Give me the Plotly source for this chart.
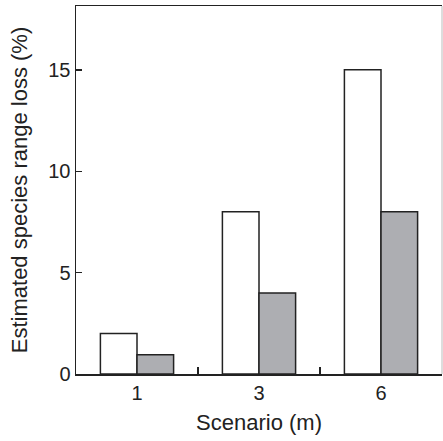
import plotly.graph_objects as go

categories = ["1", "3", "6"]
white_values = [2, 8, 15]
gray_values = [0.95, 4, 8]
y_ticks = [0, 5, 10, 15]

ink = "#222222"
font_family = "Liberation Sans, Arial, sans-serif"

fig = go.Figure()
fig.add_trace(go.Bar(
    x=categories, y=white_values, name="A",
    marker=dict(color="white", line=dict(color=ink, width=1.5)),
))
fig.add_trace(go.Bar(
    x=categories, y=gray_values, name="B",
    marker=dict(color="#adaeb2", line=dict(color=ink, width=1.5)),
))

fig.update_layout(
    width=443, height=441,
    margin=dict(l=76, r=1, t=6, b=67, autoexpand=False),
    paper_bgcolor="white", plot_bgcolor="white",
    barmode="group", bargap=0.4, bargroupgap=0,
    showlegend=False,
    font=dict(family=font_family, size=20, color=ink),
)

fig.update_xaxes(
    type="category", categoryorder="array", categoryarray=categories,
    range=[-0.5, 2.5],
    showline=True, linecolor=ink, linewidth=1.5, mirror=True,
    ticks="inside", tickson="boundaries", ticklen=7, tickwidth=1.5, tickcolor=ink,
    tickfont=dict(size=20), showgrid=False, zeroline=False,
    title=dict(text="Scenario (m)", font=dict(size=22), standoff=12),
)
fig.update_yaxes(
    range=[0, 18.15],
    tickvals=y_ticks, ticktext=[str(v) for v in y_ticks],
    showline=True, linecolor=ink, linewidth=1.5, mirror=False,
    ticks="inside", ticklen=6, tickwidth=1.5, tickcolor=ink,
    tickfont=dict(size=20), showgrid=False, zeroline=False,
    title=dict(text="Estimated species range loss (%)", font=dict(size=22), standoff=14),
)

fig.add_shape(type="line", xref="paper", yref="paper", x0=1, x1=1, y0=0, y1=1,
              line=dict(color="#bbbbbb", width=1))

fig.write_html(
    "out.html",
    config={"displayModeBar": False, "staticPlot": True},
    post_script="document.body.style.margin='0';document.body.style.overflow='hidden';",
)
